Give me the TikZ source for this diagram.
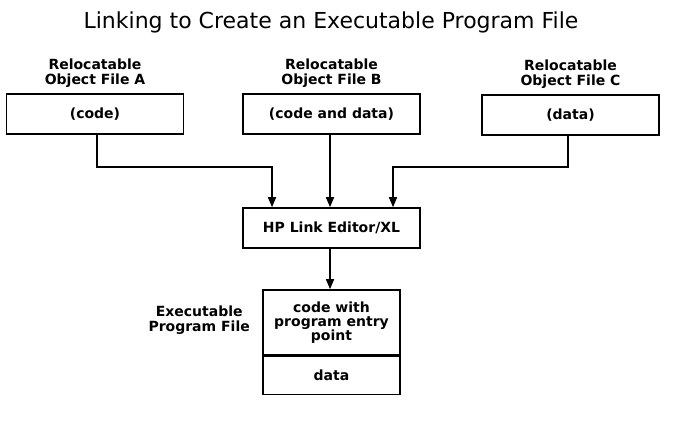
\documentclass[tikz,border=0pt]{standalone}
\usepackage{fontspec}
\setmainfont{DejaVu Sans}
\usepackage{tikz}
\usetikzlibrary{arrows.meta,positioning,calc}

\begin{document}
\begin{tikzpicture}[x=1pt, y=-1pt, every node/.style={align=center, inner sep=0pt}]
\tikzset{
  filebox/.style={draw, line width=1.6pt, minimum width=177pt, minimum height=40pt, font=\bfseries\fontsize{14}{15}\selectfont},
  filelabel/.style={font=\bfseries\fontsize{14}{15}\selectfont},
  exebox/.style={draw, line width=1.6pt, minimum width=137pt, font=\bfseries\fontsize{14}{14}\selectfont},
  link/.style={line width=1.6pt, -{Triangle[length=10pt, width=8pt]}}
}
\useasboundingbox (0,0) rectangle (687,424);
\node[font=\fontsize{22}{24}\selectfont] (title) at (331,22) {Linking to Create an Executable Program File};
% object files
\node[filebox] (fileA) at (95,114) {(code)};
\node[filebox] (fileB) at (331.5,114) {(code and data)};
\node[filebox] (fileC) at (570.5,115) {(data)};
\node[filelabel, above=5pt of fileA] (labelA) {Relocatable\\Object File A};
\node[filelabel, above=5pt of fileB] (labelB) {Relocatable\\Object File B};
\node[filelabel, above=5pt of fileC] (labelC) {Relocatable\\Object File C};
% linker
\node[filebox] (linker) at (331.5,228) {HP Link Editor/XL};
% executable
\node[exebox, minimum height=65pt] (exeCode) at (331.5,322.5) {code with\\program entry\\point};
\node[exebox, minimum height=38pt, below=0pt of exeCode] (exeData) {data};
\node[filelabel, anchor=east] (exeLabel) at (250,320) {Executable\\Program File};
\coordinate (bendA) at (272,167);
\coordinate (bendC) at (393,167);
\draw[link] ([xshift=2pt]fileA.south) |- (bendA) -- (bendA |- linker.north);
\draw[link] ([xshift=-1.5pt]fileB.south) -- ([xshift=-1.5pt]linker.north);
\draw[link] ([xshift=-2.5pt]fileC.south) |- (bendC) -- (bendC |- linker.north);
\draw[link] ([xshift=-1.5pt]linker.south) -- ([xshift=-1.5pt]exeCode.north);
\end{tikzpicture}
\end{document}
